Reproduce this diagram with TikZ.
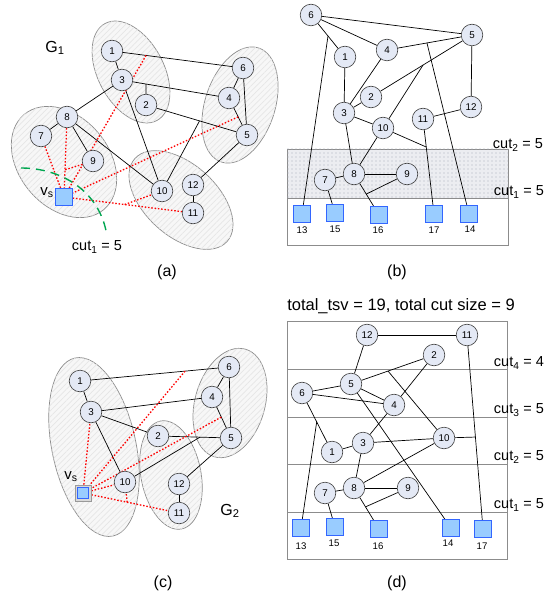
\documentclass[tikz,border=0pt]{standalone}
\usepackage{fontspec}
\setmainfont{Liberation Sans}
\usetikzlibrary{calc,patterns.meta}
\pgfdeclarelayer{bg}
\pgfdeclarelayer{edgelayer}
\pgfsetlayers{bg,edgelayer,main}
\definecolor{nodefill}{RGB}{228,233,245}
\definecolor{tsvfill}{RGB}{153,204,255}
\definecolor{tsvdraw}{RGB}{51,102,255}
\definecolor{cutgreen}{RGB}{0,166,80}
\definecolor{ellgray}{RGB}{140,140,140}
\definecolor{ellfill}{RGB}{247,247,247}
\definecolor{hatch}{RGB}{230,230,230}
\definecolor{rectgray}{RGB}{140,140,140}
\definecolor{dotfill}{RGB}{236,237,241}
\definecolor{dotcol}{RGB}{170,173,185}
\newcommand{\myfs}[1]{\fontsize{#1bp}{#1bp}\selectfont}
\tikzset{
  vn/.style={circle, draw=black!75, line width=0.6bp, fill=nodefill, minimum size=21.6bp, inner sep=0pt, font=\myfs{9.8}},
  tsv/.style={rectangle, draw=tsvdraw, line width=0.9bp, fill=tsvfill, minimum size=16.5bp, inner sep=0pt},
  tsvframe/.style={rectangle, draw=gray!80, line width=0.8bp, fill=gray!30, minimum size=16bp, inner sep=0pt},
  tsvin/.style={rectangle, draw=tsvdraw, line width=0.7bp, fill=tsvfill, minimum size=11bp, inner sep=0pt},
  num/.style={font=\myfs{9.6}, inner sep=0pt},
  ed/.style={line width=0.7bp, draw=black},
  rd/.style={draw=red, line width=1.3bp, dash pattern=on 1.5bp off 1.8bp},
  ell/.style={draw=ellgray, line width=0.7bp, fill=ellfill, postaction={pattern={Lines[angle=45, distance=4bp, line width=0.7bp]}, pattern color=hatch}},
  cutlab/.style={font=\myfs{14.5}, inner sep=0pt},
  panlab/.style={font=\myfs{16}, inner sep=0pt},
  glab/.style={font=\myfs{16}, inner sep=0pt},
  vslab/.style={font=\myfs{15}, inner sep=0pt},
  boxline/.style={draw=rectgray, line width=0.8bp},
  dotbox/.style={draw=rectgray, line width=0.8bp, fill=dotfill, postaction={pattern={Dots[distance=4bp, radius=0.55bp]}, pattern color=dotcol}},
  greencut/.style={draw=cutgreen, line width=1.4bp, dash pattern=on 9bp off 6bp}
}
\begin{document}
\begin{tikzpicture}[x=1bp, y=-1bp]
\useasboundingbox (0,0) rectangle (558,597);

% ---------------- panel (a) ----------------
\begin{pgfonlayer}{bg}
\path[ell, rotate around={-62:(131,72)}] (131,72) ellipse [x radius=55bp, y radius=33bp];
\path[ell, rotate around={72:(240,105)}] (240,105) ellipse [x radius=60bp, y radius=35bp];
\path[ell, rotate around={-50:(64,162)}] (64,162) ellipse [x radius=62bp, y radius=45bp];
\path[ell, rotate around={-42:(181,200)}] (181,200) ellipse [x radius=62bp, y radius=36bp];
\end{pgfonlayer}
\node[vn] (a1) at (112,51) {1};
\node[vn] (a3) at (122,80) {3};
\node[vn] (a2) at (146,105) {2};
\node[vn] (a6) at (243,68) {6};
\node[vn] (a4) at (229,98) {4};
\node[vn] (a5) at (247,135) {5};
\node[vn] (a8) at (67,117) {8};
\node[vn] (a7) at (41,136) {7};
\node[vn] (a9) at (93,161) {9};
\node[vn] (a10) at (162,191) {10};
\node[vn] (a12) at (193,185) {12};
\node[vn] (a11) at (193,213) {11};
\node[tsv] (avs) at (64,197) {};
\node[vslab] (avsl) at (47,193) {v\textsubscript{s}};
\node[glab] (aG) at (55,48) {G\textsubscript{1}};
\node[cutlab] (acut) at (97,247) {cut\textsubscript{1} = 5};
\node[panlab] (acap) at (167,272) {(a)};
\coordinate (aJ23) at ($(a3)!0.224!(a4)$);
\coordinate (aJ10) at ($(a2)!0.53!(a5)$);
\coordinate (aR16) at ($(a1)!0.26!(a6)$);
\coordinate (aR45) at ($(a4)!0.51!(a5)$);
\coordinate (aR9) at ($(a8)!0.66!(avs)$);
\coordinate (aR10) at ($(avs)!0.47!(a11)$);
\coordinate (aG0) at (21,168);
\coordinate (aG1) at (107,236);
\begin{pgfonlayer}{edgelayer}
\foreach \u/\v in {a1/a3, a1/a6, a3/a4, a3/a8, a3/a10, a2/a5, a2/aJ23, a10/aJ10, a8/a7, a8/a9, a8/a10, a6/a4, a6/a5, a4/a5, a5/a12, a12/a11}
  \draw[ed] (\u) -- (\v);
\foreach \u/\v in {a7/avs, a8/avs, a9/aR9, aR16/avs, aR45/avs, avs/a11, aR10/a10}
  \draw[rd] (\u) -- (\v);
\draw[greencut] (aG0) .. controls (60,168) and (100,190) .. (aG1);
\end{pgfonlayer}

% ---------------- panel (b) ----------------
\begin{pgfonlayer}{bg}
\path[dotbox] (287,149) rectangle (508,198);
\path[boxline] (287,198) rectangle (508,245);
\end{pgfonlayer}
\node[vn] (b6) at (311,15) {6};
\node[vn] (b5) at (472,35) {5};
\node[vn] (b4) at (387,50) {4};
\node[vn] (b1) at (345,57) {1};
\node[vn] (b2) at (371,97) {2};
\node[vn] (b3) at (344,113) {3};
\node[vn] (b12) at (471,107) {12};
\node[vn] (b11) at (423,119) {11};
\node[vn] (b10) at (383,128) {10};
\node[vn] (b7) at (325,180) {7};
\node[vn] (b8) at (354,174) {8};
\node[vn] (b9) at (407,174) {9};
\node[tsv] (b13) at (302,214) {};
\node[tsv] (b15) at (335,213) {};
\node[tsv] (b16) at (379,215) {};
\node[tsv] (b17) at (434,214) {};
\node[tsv] (b14) at (469,214) {};
\node[num] (b13l) at (302,230) {13};
\node[num] (b15l) at (335,229) {15};
\node[num] (b16l) at (378,230) {16};
\node[num] (b17l) at (434,230) {17};
\node[num] (b14l) at (470,229) {14};
\node[cutlab] (bcut2) at (518,145) {cut\textsubscript{2} = 5};
\node[cutlab] (bcut1) at (519,192) {cut\textsubscript{1} = 5};
\node[panlab] (bcap) at (397,272) {(b)};
\coordinate (bJ13) at ($(b6)!0.5!(b1)$);
\coordinate (bJ14) at ($(b4)!0.47!(b5)$);
\coordinate (bJ10) at ($(b5)!0.485!(b2)$);
\coordinate (bJ17) at ($(b11)!0.295!(b17)$);
\coordinate (bJ16) at ($(b8)!0.49!(b16)$);
\begin{pgfonlayer}{edgelayer}
\foreach \u/\v in {b6/b5, b6/b4, b6/b1, bJ13/b13, b4/b5, bJ14/b14, b5/b2, b10/bJ10, b4/b3, b1/b3, b3/b2, b3/b10, b3/b8, b10/b8, b11/b17, b10/bJ17, b11/b12, b5/b12, b7/b8, b8/b9, b8/b16, b7/b15, b9/bJ16}
  \draw[ed] (\u) -- (\v);
\end{pgfonlayer}

% ---------------- panel (c) ----------------
\begin{pgfonlayer}{bg}
\path[ell, rotate around={-78:(94,447)}] (94,447) ellipse [x radius=91bp, y radius=42bp];
\path[ell, rotate around={-79:(171,475)}] (171,475) ellipse [x radius=55bp, y radius=30bp];
\path[ell, rotate around={74:(230,403)}] (230,403) ellipse [x radius=56bp, y radius=35bp];
\end{pgfonlayer}
\node[vn] (c1) at (80,381) {1};
\node[vn] (c3) at (91,412) {3};
\node[vn] (c2) at (158,436) {2};
\node[vn] (c6) at (229,367) {6};
\node[vn] (c4) at (212,397) {4};
\node[vn] (c5) at (231,438) {5};
\node[vn] (c10) at (125,482) {10};
\node[vn] (c12) at (179,484) {12};
\node[vn] (c11) at (179,513) {11};
\node[tsvframe] (cvs) at (83,493) {};
\node[tsvin] (cvsin) at (83,493) {};
\node[vslab] (cvsl) at (71,477) {v\textsubscript{s}};
\node[glab] (cG) at (230,511) {G\textsubscript{2}};
\node[panlab] (ccap) at (163,583) {(c)};
\coordinate (cJ10) at ($(c2)!0.575!(c5)$);
\coordinate (cR16) at ($(c1)!0.705!(c6)$);
\coordinate (cR45) at ($(c4)!0.49!(c5)$);
\coordinate (cR11) at ($(cvs)!0.46!(c11)$);
\begin{pgfonlayer}{edgelayer}
\foreach \u/\v in {c1/c6, c1/c3, c3/c4, c3/c2, c3/c10, c2/c5, c10/cJ10, c6/c4, c6/c5, c4/c5, c5/c12, c12/c11}
  \draw[ed] (\u) -- (\v);
\foreach \u/\v in {cvs/c3, cR16/cvs, cR45/cvs, cvs/c10, cvs/c11, cR11/c10}
  \draw[rd] (\u) -- (\v);
\end{pgfonlayer}

% ---------------- panel (d) ----------------
\node[font=\myfs{16.5}, inner sep=0pt] (dtitle) at (401,306) {total\_tsv = 19, total cut size = 9};
\begin{pgfonlayer}{bg}
\path[boxline] (287,321) rectangle (507,559);
\foreach \yy in {369,417,464,512}
  \path[boxline] (287,\yy) -- (507,\yy);
\end{pgfonlayer}
\node[vn] (d12) at (367,335) {12};
\node[vn] (d11) at (467,335) {11};
\node[vn] (d2) at (434,355) {2};
\node[vn] (d5) at (351,384) {5};
\node[vn] (d6) at (302,393) {6};
\node[vn] (d4) at (394,405) {4};
\node[vn] (d10) at (444,438) {10};
\node[vn] (d3) at (363,443) {3};
\node[vn] (d1) at (332,452) {1};
\node[vn] (d7) at (325,493) {7};
\node[vn] (d8) at (354,488) {8};
\node[vn] (d9) at (408,488) {9};
\node[tsv] (d13) at (301,528) {};
\node[tsv] (d15) at (335,527) {};
\node[tsv] (d16) at (379,529) {};
\node[tsv] (d14) at (451,528) {};
\node[tsv] (d17) at (483,529) {};
\node[num] (d13l) at (301,546) {13};
\node[num] (d15l) at (334,543) {15};
\node[num] (d16l) at (378,546) {16};
\node[num] (d14l) at (448,543) {14};
\node[num] (d17l) at (482,546) {17};
\node[cutlab] (dcut4) at (519,363) {cut\textsubscript{4} = 4};
\node[cutlab] (dcut3) at (519,410) {cut\textsubscript{3} = 5};
\node[cutlab] (dcut2) at (519,457) {cut\textsubscript{2} = 5};
\node[cutlab] (dcut1) at (519,505) {cut\textsubscript{1} = 5};
\node[panlab] (dcap) at (397,583) {(d)};
\coordinate (dJ17) at ($(d11)!0.526!(d17)$);
\coordinate (dJ25) at ($(d2)!0.554!(d5)$);
\coordinate (dJ13) at ($(d6)!0.49!(d1)$);
\coordinate (dJ16) at ($(d8)!0.46!(d16)$);
\begin{pgfonlayer}{edgelayer}
\foreach \u/\v in {d12/d11, d12/d5, d11/d17, d10/dJ17, d2/d5, d2/d4, dJ25/d10, d6/d5, d6/d4, d5/d4, d5/d14, d6/d1, dJ13/d13, d4/d3, d1/d3, d3/d10, d3/d8, d8/d10, d7/d8, d8/d9, d8/d16, d7/d15, d9/dJ16}
  \draw[ed] (\u) -- (\v);
\end{pgfonlayer}
\end{tikzpicture}
\end{document}
